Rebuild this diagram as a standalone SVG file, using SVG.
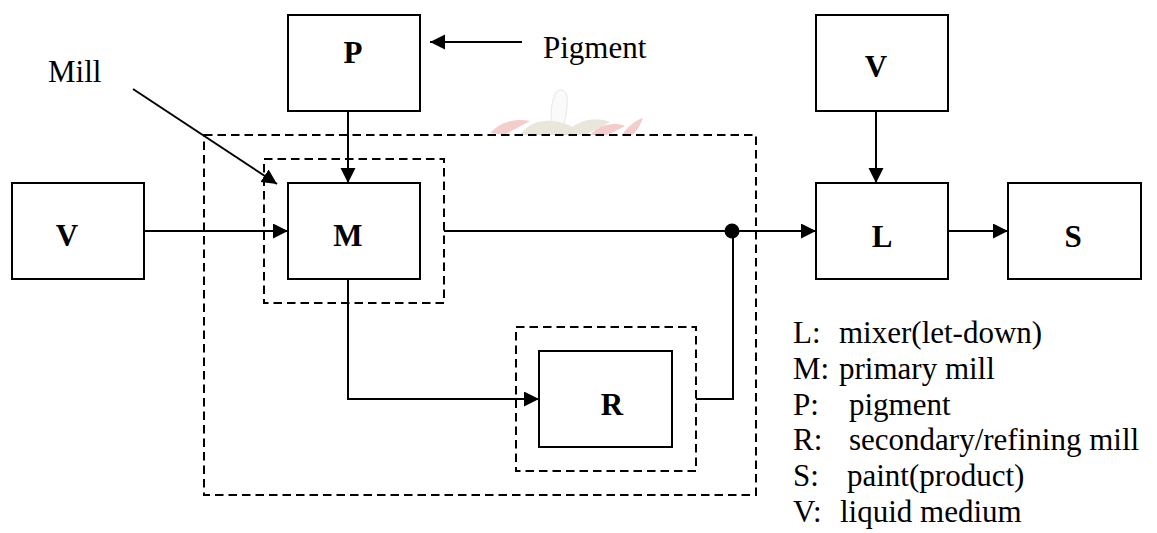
<svg xmlns="http://www.w3.org/2000/svg" width="1157" height="533" viewBox="0 0 1157 533">
<defs>
<style>
.box{fill:#fff;stroke:#000;stroke-width:2}
.dash{fill:none;stroke:#000;stroke-width:2;stroke-dasharray:8.5 5}
.ln{fill:none;stroke:#000;stroke-width:2}
.lbl{font-family:"Liberation Serif","Times New Roman",serif;font-size:31px;font-weight:bold;text-anchor:middle;fill:#000}
.txt{font-family:"Liberation Serif","Times New Roman",serif;font-size:31px;fill:#000}
.wm{opacity:0.35}
</style>
<marker id="ah" markerUnits="userSpaceOnUse" markerWidth="16" markerHeight="16" refX="15" refY="7.5" orient="auto" viewBox="0 0 16 16">
<path d="M0,0 L15,7.5 L0,15 Z" fill="#000"/>
</marker>
</defs>
<rect width="1157" height="533" fill="#fff"/>
<g id="watermark" class="wm">
<path d="M552,124 C550,112 552,100 556,92 C560,88 566,90 567,96 C568,106 566,116 564,124 Z" fill="#f2f2f2" stroke="#bbb" stroke-width="1"/>
<path d="M490,133 C500,122 515,118 530,121 C522,126 512,130 505,135 Z" fill="#e07070"/>
<path d="M520,135 C530,120 550,118 565,124 C580,128 578,135 570,135 Z" fill="#c8b89a"/>
<path d="M565,135 C575,120 595,116 610,122 C600,128 590,132 585,135 Z" fill="#c8b89a"/>
<path d="M590,135 C600,124 615,122 625,126 C618,130 612,133 606,135 Z" fill="#e07070"/>
<path d="M622,135 C628,126 636,120 643,118 C640,126 636,132 632,135 Z" fill="#e07070"/>
</g>
<g id="outer-mill" >
<rect class="dash" x="204" y="135" width="552" height="360"/>
</g>
<g id="mill-M-frame">
<rect class="dash" x="264" y="159" width="180" height="144"/>
</g>
<g id="mill-R-frame">
<rect class="dash" x="516" y="327" width="180" height="144"/>
</g>
<g id="connectors">
<line class="ln" x1="144" y1="231" x2="288" y2="231" marker-end="url(#ah)"/>
<line class="ln" x1="348" y1="111" x2="348" y2="183" marker-end="url(#ah)"/>
<line class="ln" x1="522" y1="42" x2="430" y2="42" marker-end="url(#ah)"/>
<line class="ln" x1="133" y1="89" x2="277" y2="184" marker-end="url(#ah)"/>
<line class="ln" x1="444" y1="231" x2="816" y2="231" marker-end="url(#ah)"/>
<polyline class="ln" points="348,279 348,399 539,399" marker-end="url(#ah)"/>
<polyline class="ln" points="696,399 733,399 733,231"/>
<circle cx="732" cy="231" r="7.5" fill="#000"/>
<line class="ln" x1="876" y1="111" x2="876" y2="183" marker-end="url(#ah)"/>
<line class="ln" x1="948" y1="231" x2="1008" y2="231" marker-end="url(#ah)"/>
</g>
<g id="node-P">
<rect class="box" x="288" y="15" width="132" height="96"/>
<text class="lbl" x="353" y="63">P</text>
</g>
<g id="node-V1">
<rect class="box" x="12" y="183" width="132" height="96"/>
<text class="lbl" x="67" y="246">V</text>
</g>
<g id="node-M">
<rect class="box" x="288" y="183" width="132" height="96"/>
<text class="lbl" x="348" y="246">M</text>
</g>
<g id="node-R">
<rect class="box" x="539" y="351" width="133" height="96"/>
<text class="lbl" x="612" y="415">R</text>
</g>
<g id="node-V2">
<rect class="box" x="816" y="15" width="132" height="96"/>
<text class="lbl" x="876" y="77">V</text>
</g>
<g id="node-L">
<rect class="box" x="816" y="183" width="132" height="96"/>
<text class="lbl" x="882" y="247">L</text>
</g>
<g id="node-S">
<rect class="box" x="1008" y="183" width="133" height="96"/>
<text class="lbl" x="1073" y="247">S</text>
</g>
<g id="labels">
<text class="txt" x="48" y="82">Mill</text>
<text class="txt" x="543" y="58">Pigment</text>
</g>
<g id="legend" xml:space="preserve">
<text class="txt" y="343"><tspan x="793">L:  </tspan><tspan x="839">mixer(let-down)</tspan></text>
<text class="txt" y="379"><tspan x="793">M: </tspan><tspan x="839">primary mill</tspan></text>
<text class="txt" y="415"><tspan x="793">P:   </tspan><tspan x="849">pigment</tspan></text>
<text class="txt" y="450"><tspan x="793">R:   </tspan><tspan x="849">secondary/refining mill</tspan></text>
<text class="txt" y="486"><tspan x="793">S:   </tspan><tspan x="847">paint(product)</tspan></text>
<text class="txt" y="522"><tspan x="793">V:  </tspan><tspan x="840">liquid medium</tspan></text>
</g>
</svg>
